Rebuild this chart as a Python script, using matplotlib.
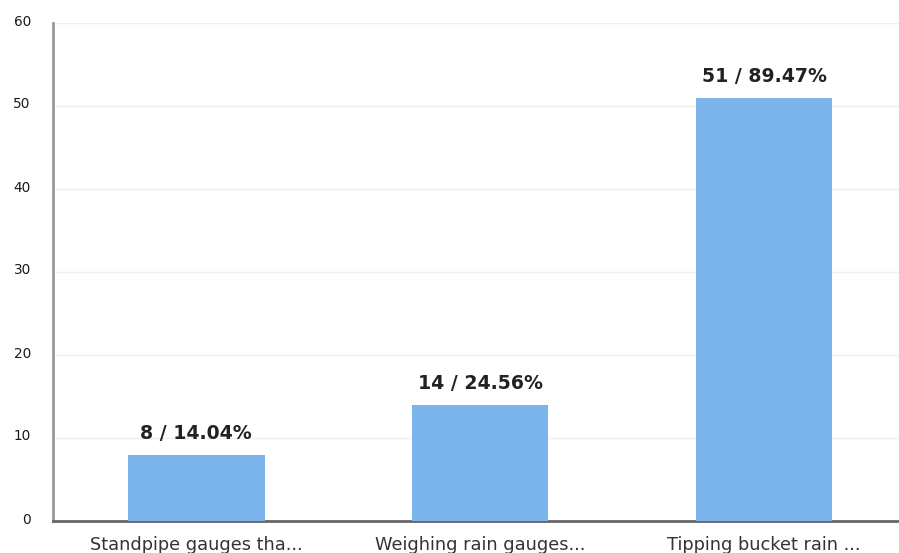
import matplotlib.pyplot as plt
import matplotlib.transforms as mtransforms
import numpy as np

categories = ["Standpipe gauges tha...", "Weighing rain gauges...", "Tipping bucket rain ..."]
counts = [8, 14, 51]
percents = [14.04, 24.56, 89.47]
yticks = [0, 10, 20, 30, 40, 50, 60]

plt.rcParams['font.family'] = ['DejaVu Sans']

fig = plt.figure(figsize=(8.99, 5.53), dpi=100)
ax = fig.add_axes([53/899, 1-521/553, 846/899, 498/553])

x = np.arange(len(categories))
bars = ax.bar(x, counts, width=0.48, color="#7cb5ec", zorder=3)

for xi, c, p in zip(x, counts, percents):
    ax.annotate("%d / %.2f%%" % (c, p), (xi, c), xytext=(0, 11.5), textcoords="offset points",
                ha="center", va="baseline", fontsize=13.6, fontweight="bold", color="#222222")

ax.set_xlim(-0.505, 2.475)
ax.set_ylim(0, 60)
ax.set_yticks(yticks)
ax.set_xticks(x)
ax.set_xticklabels(categories, fontsize=12.8, color="#333333")
ax.tick_params(axis="y", length=0, pad=16, labelsize=9.8, labelcolor="#1a1a1a")
ax.tick_params(axis="x", length=0, pad=11)
shift = mtransforms.ScaledTranslation(0, 3/100, fig.dpi_scale_trans)
for lab in ax.get_yticklabels():
    lab.set_transform(lab.get_transform() + shift)

ax.grid(axis="y", color="#efefef", linewidth=1, zorder=0)
ax.spines["top"].set_visible(False)
ax.spines["right"].set_visible(False)
ax.spines["left"].set_color("#999999")
ax.spines["left"].set_linewidth(2)
ax.spines["bottom"].set_color("#666666")
ax.spines["bottom"].set_linewidth(2)

fig.savefig("out.png", dpi=100)
